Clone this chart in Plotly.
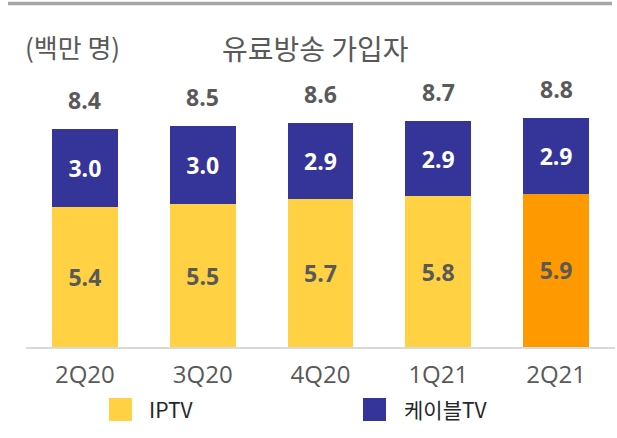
import plotly.graph_objects as go

categories = ["2Q20", "3Q20", "4Q20", "1Q21", "2Q21"]
iptv = [5.4, 5.5, 5.7, 5.8, 5.9]
cable = [3.0, 3.0, 2.9, 2.9, 2.9]
totals = [8.4, 8.5, 8.6, 8.7, 8.8]
title_text = "유료방송 가입자"
unit_text = "(백만 명)"
legend_names = ["IPTV", "케이블TV"]

YELLOW = "#FFD143"
ORANGE = "#FF9900"
NAVY = "#343499"
GRAY = "#595959"
NUM_FONT = "Open Sans, Noto Sans CJK KR, sans-serif"
KR_FONT = "Noto Sans CJK KR, Open Sans, sans-serif"

iptv_colors = [YELLOW] * (len(categories) - 1) + [ORANGE]

fig = go.Figure()
fig.add_trace(go.Bar(
    x=categories, y=iptv, name=legend_names[0],
    marker=dict(color=iptv_colors, line=dict(width=0)),
    texttemplate="<b>%{y:.1f}</b>", textposition="inside",
    insidetextanchor="middle",
    textfont=dict(family=NUM_FONT, size=23, color=GRAY),
    showlegend=False, hoverinfo="skip",
))
fig.add_trace(go.Bar(
    x=categories, y=cable, name=legend_names[1],
    marker=dict(color=NAVY, line=dict(width=0)),
    texttemplate="<b>%{y:.1f}</b>", textposition="inside",
    insidetextanchor="middle",
    textfont=dict(family=NUM_FONT, size=23, color="white"),
    showlegend=False, hoverinfo="skip",
))

annotations = []
for c, t in zip(categories, totals):
    annotations.append(dict(
        x=c, y=t, xref="x", yref="y", text=f"<b>{t:.1f}</b>",
        showarrow=False, yanchor="middle", yshift=29,
        font=dict(family=NUM_FONT, size=23, color=GRAY),
    ))

# plot area in pixels: x 26..615, y 60..347
W0, W1, H0, H1 = 26, 615, 60, 347
def px(x):
    return (x - W0) / (W1 - W0)
def py(y):
    return (H1 - y) / (H1 - H0)

annotations.append(dict(
    x=px(315), y=py(48), xref="paper", yref="paper", text=title_text,
    showarrow=False, xanchor="center", yanchor="middle",
    font=dict(family=KR_FONT, size=28, color=GRAY),
))
annotations.append(dict(
    x=px(23), y=py(47), xref="paper", yref="paper", text=unit_text,
    showarrow=False, xanchor="left", yanchor="middle",
    font=dict(family=KR_FONT, size=26, color=GRAY),
))

legend_items = [(legend_names[0], YELLOW, 109, 147), (legend_names[1], NAVY, 363, 402)]
shapes = [dict(
    type="line", xref="paper", yref="paper",
    x0=px(8), x1=px(612), y0=py(3.5), y1=py(3.5),
    line=dict(color="#A6A6A6", width=3.5),
)]
for name, col, sx, tx in legend_items:
    shapes.append(dict(
        type="rect", xref="paper", yref="paper",
        x0=px(sx), x1=px(sx + 23), y0=py(421), y1=py(398),
        fillcolor=col, line=dict(width=0),
    ))
    annotations.append(dict(
        x=px(tx), y=py(409.5), xref="paper", yref="paper", text=name,
        showarrow=False, xanchor="left", yanchor="middle",
        font=dict(family=KR_FONT, size=21, color="#262626"),
    ))

fig.update_layout(
    width=617, height=438,
    margin=dict(l=W0, r=617 - W1, t=H0, b=438 - H1),
    paper_bgcolor="white", plot_bgcolor="white",
    barmode="stack", bargap=0.44,
    annotations=annotations, shapes=shapes,
    showlegend=False,
    xaxis=dict(
        showline=True, linecolor="#D9D9D9", linewidth=1.5,
        showgrid=False, zeroline=False, ticks="",
        tickfont=dict(family=NUM_FONT, size=24, color=GRAY),
        ticklabelstandoff=5,
        fixedrange=True,
    ),
    yaxis=dict(
        range=[0, (H1 - H0) / 26.0], visible=False, showgrid=False,
        zeroline=False, fixedrange=True,
    ),
)

fig.write_html(
    "out.html",
    config={"displayModeBar": False},
    post_script="document.body.style.margin='0';document.body.style.overflow='hidden';",
)
